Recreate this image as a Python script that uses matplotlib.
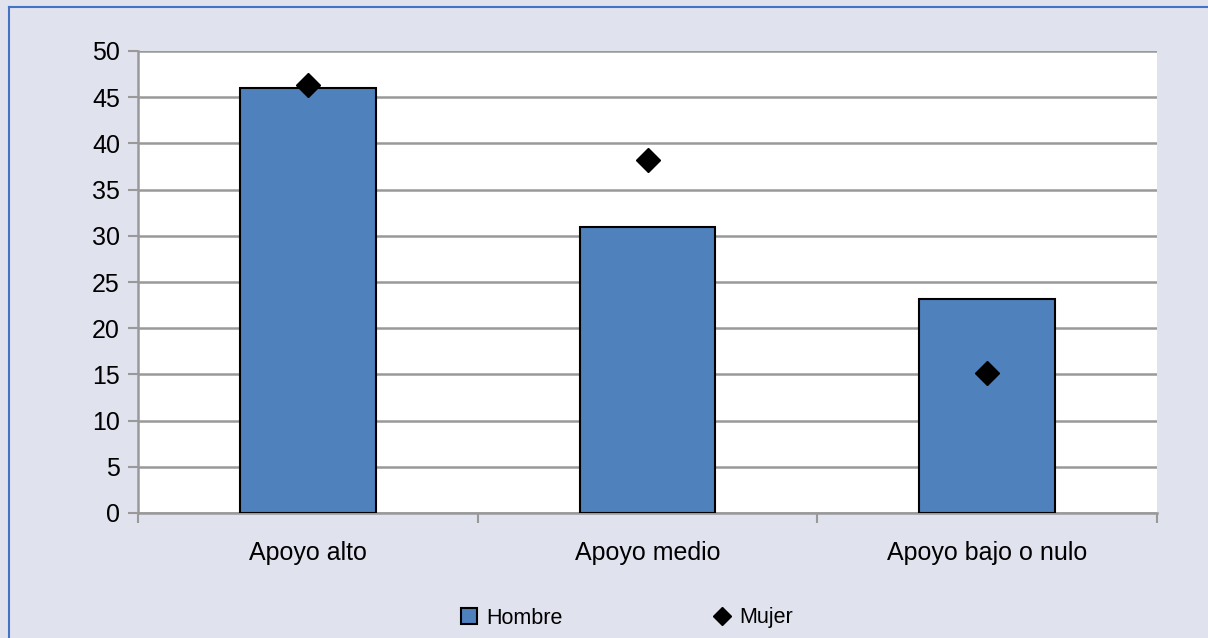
import numpy as np
import matplotlib.pyplot as plt
from matplotlib.lines import Line2D

categories = ['Apoyo alto', 'Apoyo medio', 'Apoyo bajo o nulo']
hombre = [46.0, 30.9, 23.2]
mujer = [46.3, 38.2, 15.2]
y_ticks = [0, 5, 10, 15, 20, 25, 30, 35, 40, 45, 50]

plt.rcParams['font.family'] = ['Liberation Sans', 'DejaVu Sans']

bg = '#e0e2ee'
bar_color = '#4f81bd'
fig = plt.figure(figsize=(12.08, 6.38), dpi=100, facecolor=bg)
ax = fig.add_axes([138/1208, 1 - 513/638, (1157-138)/1208, (513-51)/638])
ax.set_facecolor('white')

x = np.arange(len(categories))
ax.bar(x, hombre, width=0.4, color=bar_color, edgecolor='black', linewidth=1.5, zorder=3)
ax.plot(x, mujer, linestyle='none', marker='D', markersize=12, color='black', zorder=4)

ax.set_xlim(-0.5, len(categories) - 0.5)
ax.set_ylim(0, 50)
ax.set_yticks(y_ticks)
ax.yaxis.grid(True, color='#999999', linewidth=1.8, zorder=0)
ax.set_axisbelow(True)

# category labels sit between the boundary ticks
ax.set_xticks(np.arange(len(categories) + 1) - 0.5)
ax.set_xticklabels([])
ax.set_xticks(x, minor=True)
ax.set_xticklabels(categories, minor=True)
ax.tick_params(axis='x', which='minor', length=0, pad=20, labelsize=18)
ax.tick_params(axis='x', which='major', length=7, width=1.5, color='#999999', direction='out')
ax.tick_params(axis='y', length=7, width=1.5, color='#999999', labelsize=18, pad=6)

for side in ['top', 'right']:
    ax.spines[side].set_visible(False)
for side in ['left', 'bottom']:
    ax.spines[side].set_color('#999999')
    ax.spines[side].set_linewidth(1.8)

handles = [
    Line2D([], [], linestyle='none', marker='s', markersize=11.5,
           markerfacecolor=bar_color, markeredgecolor='black', markeredgewidth=1.5),
    Line2D([], [], linestyle='none', marker='D', markersize=9, color='black'),
]
ax.legend(handles, ['Hombre', 'Mujer'], loc='center',
          bbox_to_anchor=(627/1208, 1 - 618/638), bbox_transform=fig.transFigure,
          ncol=2, frameon=False, fontsize=15.5, columnspacing=7.0,
          handlelength=0.8, handletextpad=0.4)

# blue frame lines (top and left)
fig.add_artist(Line2D([9/1208, 1], [1 - 7/638, 1 - 7/638], transform=fig.transFigure,
                      color='#4472c4', linewidth=1.5))
fig.add_artist(Line2D([9/1208, 9/1208], [0, 1 - 7/638], transform=fig.transFigure,
                      color='#4472c4', linewidth=1.5))

fig.savefig('out.png', dpi=100, facecolor=bg)
